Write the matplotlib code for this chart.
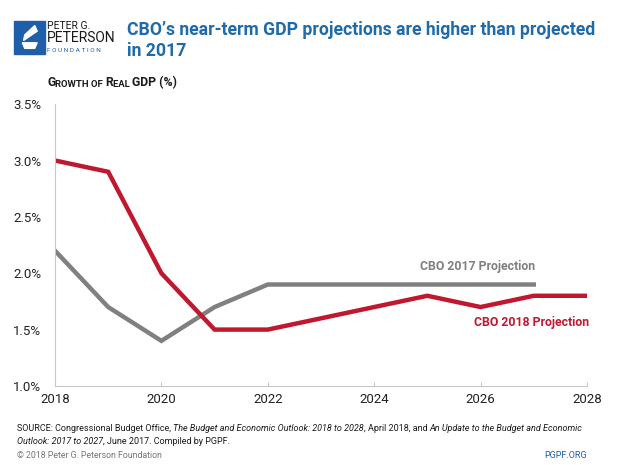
import matplotlib
matplotlib.use("Agg")
from matplotlib import pyplot as plt
from matplotlib.patches import Rectangle, Polygon

# CBO real GDP growth projections, 2017 vs 2018

years_2018 = [2018, 2019, 2020, 2021, 2022, 2023, 2024, 2025, 2026, 2027, 2028]
cbo_2018 = [3.0, 2.9, 2.0, 1.5, 1.5, 1.6, 1.7, 1.8, 1.7, 1.8, 1.8]
years_2017 = [2018, 2019, 2020, 2021, 2022, 2023, 2024, 2025, 2026, 2027]
cbo_2017 = [2.2, 1.7, 1.4, 1.7, 1.9, 1.9, 1.9, 1.9, 1.9, 1.9]

x_ticks = [2018, 2020, 2022, 2024, 2026, 2028]
y_ticks = [1.0, 1.5, 2.0, 2.5, 3.0, 3.5]

RED = '#c0182f'
GRAY = '#808080'
BLUE = '#1f6aa8'
FONT = ['Roboto', 'DejaVu Sans']

fig = plt.figure(figsize=(6.2, 4.65), dpi=100)
ax = fig.add_axes([0.0887, 0.170, 0.858, 0.606])

ax.plot(years_2017, cbo_2017, color=GRAY, lw=3.2, solid_joinstyle='miter')
ax.plot(years_2018, cbo_2018, color=RED, lw=3.2, solid_joinstyle='miter')

ax.set_xlim(2018, 2028)
ax.set_ylim(1.0, 3.5)
ax.set_xticks(x_ticks)
ax.set_yticks(y_ticks)
ax.set_yticklabels(['%.1f%%' % v for v in y_ticks])
for s in ['top', 'right']:
    ax.spines[s].set_visible(False)
for s in ['left', 'bottom']:
    ax.spines[s].set_color('#c8c8c8')
ax.tick_params(axis='both', colors='#c8c8c8', length=3, labelcolor='#222222')
ax.tick_params(axis='x', direction='in', pad=5)
ax.tick_params(axis='y', direction='out', length=0, pad=10)
for lbl in ax.get_xticklabels() + ax.get_yticklabels():
    lbl.set_fontfamily(FONT)
    lbl.set_fontsize(9.5)

ax.text(2024.86, 2.064, 'CBO 2017 Projection', color=GRAY, fontsize=8.8,
        fontweight='bold', family=FONT, va='center')
ax.text(2026.95, 1.567, 'CBO 2018 Projection', color=RED, fontsize=8.8,
        fontweight='bold', family=FONT, ha='center', va='center')

# header
fig.text(0.205, 0.935, "CBO\u2019s near-term GDP projections are higher than projected",
         color=BLUE, fontsize=12.7, fontweight='bold', family=FONT, va='center')
fig.text(0.205, 0.890, "in 2017", color=BLUE, fontsize=12.7, fontweight='bold',
         family=FONT, va='center')

# logo
fig.patches.append(Rectangle((0.023, 0.884), 0.050, 0.071, transform=fig.transFigure,
                             color='#1f5ea8'))
fig.patches.append(Polygon([(0.036, 0.908), (0.060, 0.908), (0.056, 0.896), (0.040, 0.896)],
                           closed=True, transform=fig.transFigure, color='white'))
fig.patches.append(Polygon([(0.038, 0.913), (0.060, 0.933), (0.056, 0.945), (0.040, 0.925)],
                           closed=True, transform=fig.transFigure, color='white'))
fig.text(0.076, 0.945, 'PETER G.', fontsize=7.5, family=FONT, color='#1a1a1a', va='center')
fig.text(0.075, 0.918, 'PETERSON', fontsize=10, family=FONT, color='#1a1a1a', va='center')
fig.text(0.076, 0.892, 'F O U N D A T I O N', fontsize=4.6, family=FONT, color='#1f5ea8',
         va='center')

# subtitle in small caps
parts = [('G', 8.8), ('ROWTH OF ', 6.8), ('R', 8.8), ('EAL ', 6.8), ('GDP (%)', 8.8)]
prev = fig.text(0.076, 0.814, parts[0][0], fontsize=parts[0][1], fontweight='bold',
                family=FONT, color='#1a1a1a')
for txt, sz in parts[1:]:
    prev = ax.annotate(txt, xy=(1, 0), xycoords=prev, fontsize=sz, fontweight='bold',
                       family=FONT, color='#1a1a1a', va='bottom', annotation_clip=False)


def chain(x, y, pieces, size=6.5, color='#1a1a1a'):
    prev = fig.text(x, y, pieces[0][0], fontsize=size, family=FONT, color=color,
                    style=pieces[0][1])
    for txt, st in pieces[1:]:
        prev = ax.annotate(txt, xy=(1, 0), xycoords=prev, fontsize=size, family=FONT,
                           color=color, style=st, va='bottom', annotation_clip=False)


# footer
chain(0.027, 0.074, [('SOURCE: Congressional Budget Office, ', 'normal'),
                     ('The Budget and Economic Outlook: 2018 to 2028', 'italic'),
                     (', April 2018, and ', 'normal'),
                     ('An Update to the Budget and Economic', 'italic')])
chain(0.027, 0.046, [('Outlook: 2017 to 2027', 'italic'),
                     (', June 2017. Compiled by PGPF.', 'normal')])
fig.text(0.027, 0.016, '\u00a9 2018 Peter G. Peterson Foundation', fontsize=6.3,
         family=FONT, color='#777777')
fig.text(0.947, 0.016, 'PGPF.ORG', fontsize=6.5, family=FONT, color='#1f5ea8', ha='right')

fig.savefig('out.png', dpi=100)
